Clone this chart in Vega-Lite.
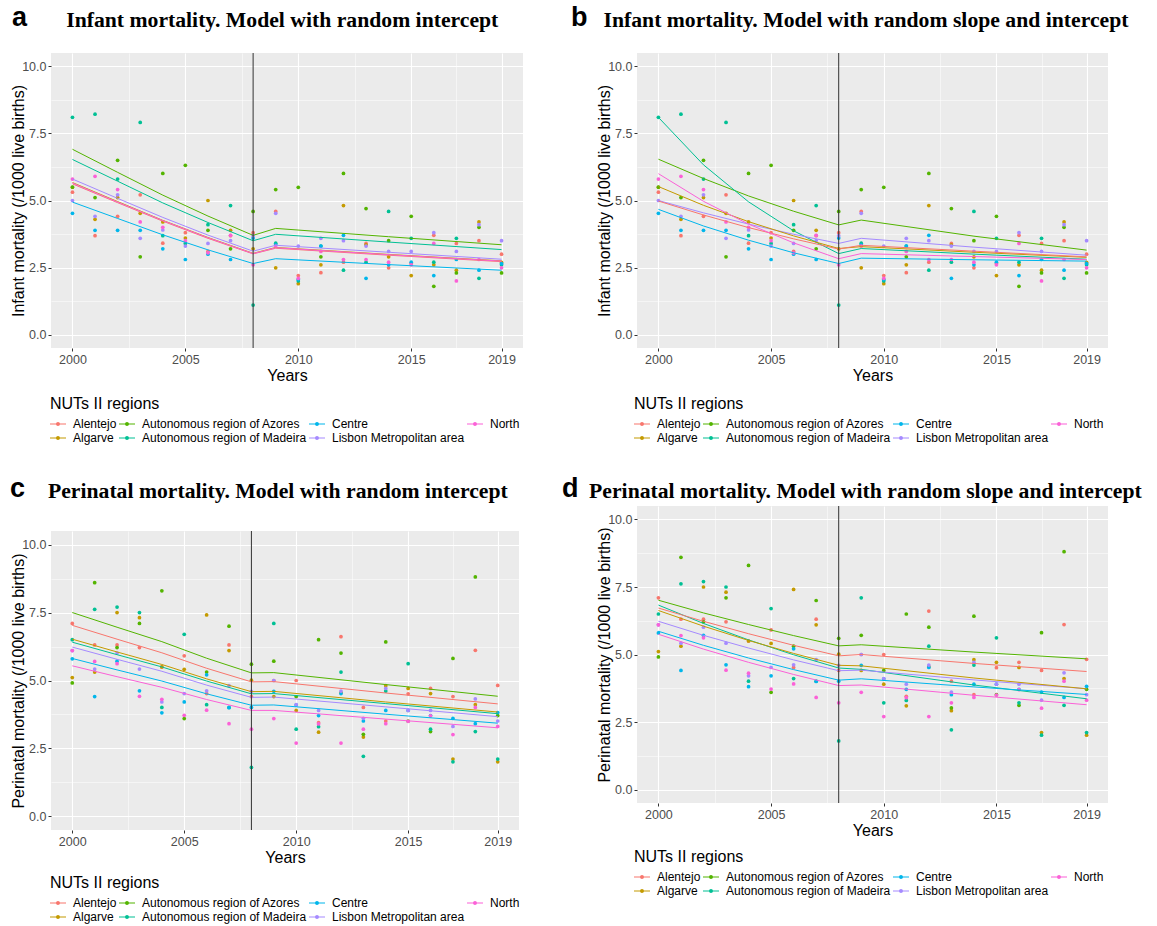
{
"$schema": "https://vega.github.io/schema/vega-lite/v6.json",
"padding": {"left": 10, "top": 3, "right": 5, "bottom": 3},
"background": "white",
"config": {
  "view": {"fill": "#EBEBEB", "stroke": null},
  "font": "Liberation Sans",
  "title": {"anchor": "start", "frame": "group", "font": "Liberation Sans", "fontSize": 27, "fontWeight": "bold", "color": "#000000", "subtitleFont": "Liberation Serif", "subtitleFontSize": 21.7, "subtitleFontWeight": "bold", "subtitleColor": "#000000", "subtitlePadding": -22},
  "axis": {"domain": false, "tickColor": "#333333", "tickSize": 3, "tickWidth": 1, "labelColor": "#4D4D4D", "labelFont": "Liberation Sans", "labelFontSize": 12.5, "labelPadding": 2, "titleFont": "Liberation Sans", "titleFontSize": 16, "titleFontWeight": "normal", "titleColor": "#000000", "titlePadding": 2, "gridColor": "#FFFFFF", "gridWidth": 1.1},
  "axisY": {"titlePadding": -5},
  "legend": {"titleFont": "Liberation Sans", "titleFontSize": 16, "titleFontWeight": "normal", "titleColor": "#000000", "labelFont": "Liberation Sans", "labelFontSize": 12, "labelColor": "#000000", "labelLimit": 400, "symbolSize": 256, "columnPadding": 2, "rowPadding": 0, "labelOffset": 7, "titlePadding": 4, "symbolStrokeWidth": 0, "symbolType": "M-1,-0.06L1,-0.06L1,0.06L-1,0.06Z M0.25,0A0.25,0.25 0 1 1 -0.25,0A0.25,0.25 0 1 1 0.25,0Z"}
},
"datasets": {
  "vl": [{"x": 2008}],
  "pts": [
{"r":"Alentejo","y":2000,"i":5.31,"p":7.1},{"r":"Alentejo","y":2001,"i":3.69,"p":6.31},{"r":"Alentejo","y":2002,"i":4.41,"p":6.31},{"r":"Alentejo","y":2003,"i":5.21,"p":6.21},{"r":"Alentejo","y":2004,"i":3.41,"p":5.5},{"r":"Alentejo","y":2005,"i":3.8,"p":5.91},{"r":"Alentejo","y":2006,"i":3.1,"p":4.52},{"r":"Alentejo","y":2007,"i":3.69,"p":6.31},{"r":"Alentejo","y":2008,"i":3.8,"p":4.41},{"r":"Alentejo","y":2009,"i":4.59,"p":5.0},{"r":"Alentejo","y":2010,"i":2.2,"p":5.0},{"r":"Alentejo","y":2011,"i":2.31,"p":3.45},{"r":"Alentejo","y":2012,"i":2.7,"p":6.61},{"r":"Alentejo","y":2013,"i":3.4,"p":4.01},{"r":"Alentejo","y":2014,"i":2.49,"p":3.51},{"r":"Alentejo","y":2015,"i":2.65,"p":4.51},{"r":"Alentejo","y":2016,"i":3.7,"p":4.71},{"r":"Alentejo","y":2017,"i":3.4,"p":4.41},{"r":"Alentejo","y":2018,"i":3.5,"p":6.11},{"r":"Alentejo","y":2019,"i":3.0,"p":4.82},
{"r":"Algarve","y":2000,"i":5.49,"p":5.11},{"r":"Algarve","y":2001,"i":4.3,"p":5.31},{"r":"Algarve","y":2002,"i":5.11,"p":7.5},{"r":"Algarve","y":2003,"i":4.52,"p":7.31},{"r":"Algarve","y":2004,"i":4.2,"p":5.5},{"r":"Algarve","y":2005,"i":3.6,"p":5.41},{"r":"Algarve","y":2006,"i":5.0,"p":7.41},{"r":"Algarve","y":2007,"i":3.89,"p":6.1},{"r":"Algarve","y":2008,"i":3.2,"p":5.01},{"r":"Algarve","y":2009,"i":2.49,"p":4.41},{"r":"Algarve","y":2010,"i":1.9,"p":3.9},{"r":"Algarve","y":2011,"i":2.6,"p":3.1},{"r":"Algarve","y":2012,"i":4.81,"p":4.55},{"r":"Algarve","y":2013,"i":3.35,"p":2.92},{"r":"Algarve","y":2014,"i":2.9,"p":4.81},{"r":"Algarve","y":2015,"i":2.2,"p":4.71},{"r":"Algarve","y":2016,"i":2.6,"p":4.52},{"r":"Algarve","y":2017,"i":2.4,"p":2.11},{"r":"Algarve","y":2018,"i":4.2,"p":4.11},{"r":"Algarve","y":2019,"i":2.69,"p":2.01},
{"r":"Autonomous region of Azores","y":2000,"i":5.5,"p":4.91},{"r":"Autonomous region of Azores","y":2001,"i":5.11,"p":8.6},{"r":"Autonomous region of Azores","y":2002,"i":6.5,"p":6.21},{"r":"Autonomous region of Azores","y":2003,"i":2.9,"p":7.1},{"r":"Autonomous region of Azores","y":2004,"i":6.01,"p":8.3},{"r":"Autonomous region of Azores","y":2005,"i":6.31,"p":3.6},{"r":"Autonomous region of Azores","y":2006,"i":3.89,"p":5.31},{"r":"Autonomous region of Azores","y":2007,"i":3.2,"p":7.0},{"r":"Autonomous region of Azores","y":2008,"i":4.59,"p":5.6},{"r":"Autonomous region of Azores","y":2009,"i":5.41,"p":5.71},{"r":"Autonomous region of Azores","y":2010,"i":5.49,"p":4.41},{"r":"Autonomous region of Azores","y":2011,"i":2.9,"p":6.5},{"r":"Autonomous region of Azores","y":2012,"i":6.01,"p":6.01},{"r":"Autonomous region of Azores","y":2013,"i":4.7,"p":3.02},{"r":"Autonomous region of Azores","y":2014,"i":3.5,"p":6.42},{"r":"Autonomous region of Azores","y":2015,"i":4.41,"p":3.51},{"r":"Autonomous region of Azores","y":2016,"i":1.8,"p":3.12},{"r":"Autonomous region of Azores","y":2017,"i":2.3,"p":5.81},{"r":"Autonomous region of Azores","y":2018,"i":4.0,"p":8.81},{"r":"Autonomous region of Azores","y":2019,"i":2.3,"p":3.71},
{"r":"Autonomous region of Madeira","y":2000,"i":8.1,"p":6.5},{"r":"Autonomous region of Madeira","y":2001,"i":8.22,"p":7.62},{"r":"Autonomous region of Madeira","y":2002,"i":5.8,"p":7.7},{"r":"Autonomous region of Madeira","y":2003,"i":7.91,"p":7.5},{"r":"Autonomous region of Madeira","y":2004,"i":3.69,"p":4.01},{"r":"Autonomous region of Madeira","y":2005,"i":3.4,"p":6.7},{"r":"Autonomous region of Madeira","y":2006,"i":4.1,"p":4.11},{"r":"Autonomous region of Madeira","y":2007,"i":4.81,"p":4.01},{"r":"Autonomous region of Madeira","y":2008,"i":1.1,"p":1.8},{"r":"Autonomous region of Madeira","y":2009,"i":3.41,"p":7.1},{"r":"Autonomous region of Madeira","y":2010,"i":2.0,"p":3.21},{"r":"Autonomous region of Madeira","y":2011,"i":3.3,"p":3.3},{"r":"Autonomous region of Madeira","y":2012,"i":2.4,"p":5.31},{"r":"Autonomous region of Madeira","y":2013,"i":2.7,"p":2.21},{"r":"Autonomous region of Madeira","y":2014,"i":4.59,"p":4.61},{"r":"Autonomous region of Madeira","y":2015,"i":3.59,"p":5.62},{"r":"Autonomous region of Madeira","y":2016,"i":2.7,"p":3.21},{"r":"Autonomous region of Madeira","y":2017,"i":3.59,"p":2.01},{"r":"Autonomous region of Madeira","y":2018,"i":2.1,"p":3.12},{"r":"Autonomous region of Madeira","y":2019,"i":2.6,"p":2.11},
{"r":"Centre","y":2000,"i":4.52,"p":5.8},{"r":"Centre","y":2001,"i":3.89,"p":4.41},{"r":"Centre","y":2002,"i":3.89,"p":5.71},{"r":"Centre","y":2003,"i":3.89,"p":4.62},{"r":"Centre","y":2004,"i":3.2,"p":3.81},{"r":"Centre","y":2005,"i":2.8,"p":4.21},{"r":"Centre","y":2006,"i":3.0,"p":5.21},{"r":"Centre","y":2007,"i":2.8,"p":4.0},{"r":"Centre","y":2008,"i":3.6,"p":4.01},{"r":"Centre","y":2009,"i":3.35,"p":4.6},{"r":"Centre","y":2010,"i":2.05,"p":4.1},{"r":"Centre","y":2011,"i":3.3,"p":3.71},{"r":"Centre","y":2012,"i":3.7,"p":4.52},{"r":"Centre","y":2013,"i":2.1,"p":3.51},{"r":"Centre","y":2014,"i":2.6,"p":3.9},{"r":"Centre","y":2015,"i":2.7,"p":3.9},{"r":"Centre","y":2016,"i":2.2,"p":3.71},{"r":"Centre","y":2017,"i":2.8,"p":3.61},{"r":"Centre","y":2018,"i":2.4,"p":3.41},{"r":"Centre","y":2019,"i":2.65,"p":3.82},
{"r":"Lisbon Metropolitan area","y":2000,"i":5.0,"p":6.1},{"r":"Lisbon Metropolitan area","y":2001,"i":4.41,"p":5.42},{"r":"Lisbon Metropolitan area","y":2002,"i":5.21,"p":6.01},{"r":"Lisbon Metropolitan area","y":2003,"i":3.59,"p":5.42},{"r":"Lisbon Metropolitan area","y":2004,"i":3.9,"p":4.21},{"r":"Lisbon Metropolitan area","y":2005,"i":3.3,"p":4.52},{"r":"Lisbon Metropolitan area","y":2006,"i":3.4,"p":4.62},{"r":"Lisbon Metropolitan area","y":2007,"i":3.5,"p":4.81},{"r":"Lisbon Metropolitan area","y":2008,"i":3.69,"p":4.6},{"r":"Lisbon Metropolitan area","y":2009,"i":4.52,"p":5.0},{"r":"Lisbon Metropolitan area","y":2010,"i":3.3,"p":4.11},{"r":"Lisbon Metropolitan area","y":2011,"i":3.59,"p":3.9},{"r":"Lisbon Metropolitan area","y":2012,"i":3.5,"p":4.61},{"r":"Lisbon Metropolitan area","y":2013,"i":3.3,"p":3.61},{"r":"Lisbon Metropolitan area","y":2014,"i":3.1,"p":4.71},{"r":"Lisbon Metropolitan area","y":2015,"i":3.1,"p":3.9},{"r":"Lisbon Metropolitan area","y":2016,"i":3.8,"p":3.9},{"r":"Lisbon Metropolitan area","y":2017,"i":3.1,"p":3.31},{"r":"Lisbon Metropolitan area","y":2018,"i":4.1,"p":4.32},{"r":"Lisbon Metropolitan area","y":2019,"i":3.5,"p":3.51},
{"r":"North","y":2000,"i":5.8,"p":6.1},{"r":"North","y":2001,"i":5.9,"p":5.7},{"r":"North","y":2002,"i":5.41,"p":5.62},{"r":"North","y":2003,"i":4.2,"p":4.42},{"r":"North","y":2004,"i":4.0,"p":4.31},{"r":"North","y":2005,"i":3.5,"p":3.72},{"r":"North","y":2006,"i":3.05,"p":3.91},{"r":"North","y":2007,"i":3.7,"p":3.41},{"r":"North","y":2008,"i":2.6,"p":3.21},{"r":"North","y":2009,"i":3.3,"p":3.6},{"r":"North","y":2010,"i":2.1,"p":2.7},{"r":"North","y":2011,"i":3.1,"p":3.4},{"r":"North","y":2012,"i":2.8,"p":2.7},{"r":"North","y":2013,"i":2.8,"p":3.21},{"r":"North","y":2014,"i":2.7,"p":3.41},{"r":"North","y":2015,"i":2.6,"p":3.5},{"r":"North","y":2016,"i":3.4,"p":3.7},{"r":"North","y":2017,"i":2.0,"p":3.01},{"r":"North","y":2018,"i":2.8,"p":4.01},{"r":"North","y":2019,"i":2.49,"p":3.31}
  ],
  "lns": [
{"r":"Autonomous region of Azores","y":2000,"a":6.91,"b":6.54,"c":7.5,"d":7.01},{"r":"Autonomous region of Azores","y":2002,"a":6.05,"b":5.82,"c":6.96,"d":6.54},{"r":"Autonomous region of Azores","y":2004,"a":5.2,"b":5.17,"c":6.43,"d":6.11},{"r":"Autonomous region of Azores","y":2006,"a":4.42,"b":4.6,"c":5.82,"d":5.7},{"r":"Autonomous region of Azores","y":2008,"a":3.7,"b":4.09,"c":5.28,"d":5.32},{"r":"Autonomous region of Azores","y":2009,"a":3.96,"b":4.27,"c":5.29,"d":5.36},{"r":"Autonomous region of Azores","y":2014,"a":3.65,"b":3.67,"c":4.85,"d":5.09},{"r":"Autonomous region of Azores","y":2019,"a":3.35,"b":3.15,"c":4.42,"d":4.84},
{"r":"Autonomous region of Madeira","y":2000,"a":6.53,"b":8.1,"c":6.41,"d":6.83},{"r":"Autonomous region of Madeira","y":2002,"a":5.72,"b":6.33,"c":5.95,"d":6.15},{"r":"Autonomous region of Madeira","y":2004,"a":4.91,"b":4.95,"c":5.5,"d":5.54},{"r":"Autonomous region of Madeira","y":2006,"a":4.18,"b":3.87,"c":4.98,"d":4.99},{"r":"Autonomous region of Madeira","y":2008,"a":3.5,"b":3.02,"c":4.51,"d":4.5},{"r":"Autonomous region of Madeira","y":2009,"a":3.74,"b":3.21,"c":4.52,"d":4.45},{"r":"Autonomous region of Madeira","y":2014,"a":3.45,"b":3.0,"c":4.15,"d":3.87},{"r":"Autonomous region of Madeira","y":2019,"a":3.17,"b":2.81,"c":3.78,"d":3.36},
{"r":"Lisbon Metropolitan area","y":2000,"a":5.8,"b":5.0,"c":6.23,"d":6.23},{"r":"Lisbon Metropolitan area","y":2002,"a":5.08,"b":4.54,"c":5.78,"d":5.71},{"r":"Lisbon Metropolitan area","y":2004,"a":4.37,"b":4.12,"c":5.34,"d":5.24},{"r":"Lisbon Metropolitan area","y":2006,"a":3.71,"b":3.74,"c":4.83,"d":4.8},{"r":"Lisbon Metropolitan area","y":2008,"a":3.11,"b":3.4,"c":4.38,"d":4.4},{"r":"Lisbon Metropolitan area","y":2009,"a":3.33,"b":3.59,"c":4.39,"d":4.42},{"r":"Lisbon Metropolitan area","y":2014,"a":3.07,"b":3.26,"c":4.03,"d":4.06},{"r":"Lisbon Metropolitan area","y":2019,"a":2.81,"b":2.96,"c":3.67,"d":3.73},
{"r":"Algarve","y":2000,"a":5.67,"b":5.52,"c":6.52,"d":6.63},{"r":"Algarve","y":2002,"a":4.96,"b":4.82,"c":6.05,"d":6.05},{"r":"Algarve","y":2004,"a":4.26,"b":4.21,"c":5.59,"d":5.52},{"r":"Algarve","y":2006,"a":3.62,"b":3.68,"c":5.06,"d":5.04},{"r":"Algarve","y":2008,"a":3.03,"b":3.21,"c":4.59,"d":4.6},{"r":"Algarve","y":2009,"a":3.25,"b":3.28,"c":4.6,"d":4.58},{"r":"Algarve","y":2014,"a":2.99,"b":3.07,"c":4.21,"d":4.13},{"r":"Algarve","y":2019,"a":2.75,"b":2.88,"c":3.84,"d":3.73},
{"r":"Alentejo","y":2000,"a":5.62,"b":4.98,"c":7.03,"d":6.72},{"r":"Alentejo","y":2002,"a":4.92,"b":4.46,"c":6.52,"d":6.23},{"r":"Alentejo","y":2004,"a":4.23,"b":3.99,"c":6.02,"d":5.77},{"r":"Alentejo","y":2006,"a":3.59,"b":3.57,"c":5.45,"d":5.34},{"r":"Alentejo","y":2008,"a":3.01,"b":3.19,"c":4.95,"d":4.95},{"r":"Alentejo","y":2009,"a":3.22,"b":3.33,"c":4.96,"d":5.0},{"r":"Alentejo","y":2014,"a":2.96,"b":3.11,"c":4.54,"d":4.67},{"r":"Alentejo","y":2019,"a":2.72,"b":2.9,"c":4.14,"d":4.37},
{"r":"North","y":2000,"a":5.65,"b":6.0,"c":5.54,"d":5.75},{"r":"North","y":2002,"a":4.94,"b":4.97,"c":5.14,"d":5.2},{"r":"North","y":2004,"a":4.25,"b":4.12,"c":4.75,"d":4.71},{"r":"North","y":2006,"a":3.61,"b":3.42,"c":4.3,"d":4.26},{"r":"North","y":2008,"a":3.02,"b":2.83,"c":3.9,"d":3.85},{"r":"North","y":2009,"a":3.24,"b":3.02,"c":3.9,"d":3.87},{"r":"North","y":2014,"a":2.98,"b":2.91,"c":3.58,"d":3.49},{"r":"North","y":2019,"a":2.74,"b":2.8,"c":3.26,"d":3.14},
{"r":"Centre","y":2000,"a":4.94,"b":4.67,"c":5.81,"d":5.86},{"r":"Centre","y":2002,"a":4.33,"b":4.05,"c":5.39,"d":5.34},{"r":"Centre","y":2004,"a":3.72,"b":3.52,"c":4.98,"d":4.87},{"r":"Centre","y":2006,"a":3.16,"b":3.05,"c":4.51,"d":4.44},{"r":"Centre","y":2008,"a":2.65,"b":2.65,"c":4.09,"d":4.05},{"r":"Centre","y":2009,"a":2.83,"b":2.85,"c":4.1,"d":4.1},{"r":"Centre","y":2014,"a":2.61,"b":2.79,"c":3.76,"d":3.8},{"r":"Centre","y":2019,"a":2.4,"b":2.74,"c":3.43,"d":3.52}
  ]
},
"spacing": 39,
"resolve": {"scale": {"color": "independent", "x": "independent", "y": "independent"}, "legend": {"color": "independent"}},
"hconcat": [
 {"spacing": 30,
  "resolve": {"scale": {"color": "independent", "x": "independent", "y": "independent"}, "legend": {"color": "independent"}},
  "vconcat": [
  {"width": 472, "height": 295,
   "title": {"text": "a", "subtitle": "\u200b\u00a0\u00a0\u00a0\u00a0\u00a0\u00a0\u00a0\u00a0\u00a0\u00a0Infant mortality. Model with random intercept", "dx": -39, "offset": 20},
   "resolve": {"axis": {"x": "independent", "y": "independent"}},
   "layer": [
    {"data": {"name": "pts"}, "mark": {"type": "point", "filled": true, "size": 14, "opacity": 1},
     "encoding": {
      "x": {"field": "y", "type": "quantitative", "scale": {"domain": [1999.05, 2019.95], "nice": false, "zero": false}, "axis": {"values": [2000, 2005, 2010, 2015, 2019], "format": "d", "title": "Years"}},
      "y": {"field": "i", "type": "quantitative", "scale": {"domain": [-0.5, 10.5], "nice": false}, "axis": {"values": [0, 2.5, 5, 7.5, 10], "format": ".1f", "title": "Infant mortality (/1000 live births)"}},
      "color": {"field": "r", "type": "nominal", "scale": {"domain": ["Alentejo", "Autonomous region of Azores", "Centre", "North", "Algarve", "Autonomous region of Madeira", "Lisbon Metropolitan area"], "range": ["#F8766D", "#53B400", "#00B6EB", "#FB61D7", "#C49A00", "#00C094", "#A58AFF"]}, "legend": {"title": "NUTs II regions", "orient": "none", "legendX": -1, "legendY": 343, "columns": 4, "direction": "horizontal"}}}},
    {"data": {"name": "lns"}, "mark": {"type": "line", "strokeWidth": 1},
     "encoding": {
      "x": {"field": "y", "type": "quantitative", "scale": {"domain": [1999.05, 2019.95], "nice": false, "zero": false}, "axis": {"values": [2002.5, 2007.5, 2012.5, 2017], "grid": true, "gridWidth": 0.5, "labels": false, "ticks": false, "title": null}},
      "y": {"field": "a", "type": "quantitative", "scale": {"domain": [-0.5, 10.5], "nice": false}, "axis": {"values": [1.25, 3.75, 6.25, 8.75], "grid": true, "gridWidth": 0.5, "labels": false, "ticks": false, "title": null}},
      "color": {"field": "r", "type": "nominal"}}},
    {"data": {"name": "vl"}, "mark": {"type": "rule", "color": "#333333", "strokeWidth": 1},
     "encoding": {"x": {"field": "x", "type": "quantitative", "axis": null}}}
   ]},
  {"width": 468, "height": 299,
   "title": {"text": "c", "subtitle": "\u200b\u00a0\u00a0\u00a0\u00a0\u00a0\u00a0\u00a0Perinatal mortality. Model with random intercept", "dx": -41, "offset": 27},
   "resolve": {"axis": {"x": "independent", "y": "independent"}},
   "layer": [
    {"data": {"name": "pts"}, "mark": {"type": "point", "filled": true, "size": 14, "opacity": 1},
     "encoding": {
      "x": {"field": "y", "type": "quantitative", "scale": {"domain": [1999.05, 2019.95], "nice": false, "zero": false}, "axis": {"values": [2000, 2005, 2010, 2015, 2019], "format": "d", "title": "Years"}},
      "y": {"field": "p", "type": "quantitative", "scale": {"domain": [-0.5, 10.5], "nice": false}, "axis": {"values": [0, 2.5, 5, 7.5, 10], "format": ".1f", "title": "Perinatal mortality (/1000 live births)"}},
      "color": {"field": "r", "type": "nominal", "scale": {"domain": ["Alentejo", "Autonomous region of Azores", "Centre", "North", "Algarve", "Autonomous region of Madeira", "Lisbon Metropolitan area"], "range": ["#F8766D", "#53B400", "#00B6EB", "#FB61D7", "#C49A00", "#00C094", "#A58AFF"]}, "legend": {"title": "NUTs II regions", "orient": "none", "legendX": -1, "legendY": 344, "columns": 4, "direction": "horizontal"}}}},
    {"data": {"name": "lns"}, "mark": {"type": "line", "strokeWidth": 1},
     "encoding": {
      "x": {"field": "y", "type": "quantitative", "scale": {"domain": [1999.05, 2019.95], "nice": false, "zero": false}, "axis": {"values": [2002.5, 2007.5, 2012.5, 2017], "grid": true, "gridWidth": 0.5, "labels": false, "ticks": false, "title": null}},
      "y": {"field": "c", "type": "quantitative", "scale": {"domain": [-0.5, 10.5], "nice": false}, "axis": {"values": [1.25, 3.75, 6.25, 8.75], "grid": true, "gridWidth": 0.5, "labels": false, "ticks": false, "title": null}},
      "color": {"field": "r", "type": "nominal"}}},
    {"data": {"name": "vl"}, "mark": {"type": "rule", "color": "#333333", "strokeWidth": 1},
     "encoding": {"x": {"field": "x", "type": "quantitative", "axis": null}}}
   ]}
 ]},
 {"spacing": 30,
  "resolve": {"scale": {"color": "independent", "x": "independent", "y": "independent"}, "legend": {"color": "independent"}},
  "vconcat": [
  {"width": 471, "height": 295,
   "title": {"text": "b", "subtitle": "\u200b\u00a0\u00a0\u00a0\u00a0\u00a0\u00a0Infant mortality. Model with random slope and intercept", "dx": -66, "offset": 20},
   "resolve": {"axis": {"x": "independent", "y": "independent"}},
   "layer": [
    {"data": {"name": "pts"}, "mark": {"type": "point", "filled": true, "size": 14, "opacity": 1},
     "encoding": {
      "x": {"field": "y", "type": "quantitative", "scale": {"domain": [1999.05, 2019.95], "nice": false, "zero": false}, "axis": {"values": [2000, 2005, 2010, 2015, 2019], "format": "d", "title": "Years"}},
      "y": {"field": "i", "type": "quantitative", "scale": {"domain": [-0.5, 10.5], "nice": false}, "axis": {"values": [0, 2.5, 5, 7.5, 10], "format": ".1f", "title": "Infant mortality (/1000 live births)"}},
      "color": {"field": "r", "type": "nominal", "scale": {"domain": ["Alentejo", "Autonomous region of Azores", "Centre", "North", "Algarve", "Autonomous region of Madeira", "Lisbon Metropolitan area"], "range": ["#F8766D", "#53B400", "#00B6EB", "#FB61D7", "#C49A00", "#00C094", "#A58AFF"]}, "legend": {"title": "NUTs II regions", "orient": "none", "legendX": -3, "legendY": 343, "columns": 4, "direction": "horizontal"}}}},
    {"data": {"name": "lns"}, "mark": {"type": "line", "strokeWidth": 1},
     "encoding": {
      "x": {"field": "y", "type": "quantitative", "scale": {"domain": [1999.05, 2019.95], "nice": false, "zero": false}, "axis": {"values": [2002.5, 2007.5, 2012.5, 2017], "grid": true, "gridWidth": 0.5, "labels": false, "ticks": false, "title": null}},
      "y": {"field": "b", "type": "quantitative", "scale": {"domain": [-0.5, 10.5], "nice": false}, "axis": {"values": [1.25, 3.75, 6.25, 8.75], "grid": true, "gridWidth": 0.5, "labels": false, "ticks": false, "title": null}},
      "color": {"field": "r", "type": "nominal"}}},
    {"data": {"name": "vl"}, "mark": {"type": "rule", "color": "#333333", "strokeWidth": 1},
     "encoding": {"x": {"field": "x", "type": "quantitative", "axis": null}}}
   ]},
  {"width": 471, "height": 297,
   "title": {"text": "d", "subtitle": "\u200b\u00a0\u00a0\u00a0\u00a0\u00a0Perinatal mortality. Model with random slope and intercept", "dx": -75, "offset": 2},
   "resolve": {"axis": {"x": "independent", "y": "independent"}},
   "layer": [
    {"data": {"name": "pts"}, "mark": {"type": "point", "filled": true, "size": 14, "opacity": 1},
     "encoding": {
      "x": {"field": "y", "type": "quantitative", "scale": {"domain": [1999.05, 2019.95], "nice": false, "zero": false}, "axis": {"values": [2000, 2005, 2010, 2015, 2019], "format": "d", "title": "Years"}},
      "y": {"field": "p", "type": "quantitative", "scale": {"domain": [-0.5, 10.5], "nice": false}, "axis": {"values": [0, 2.5, 5, 7.5, 10], "format": ".1f", "title": "Perinatal mortality (/1000 live births)"}},
      "color": {"field": "r", "type": "nominal", "scale": {"domain": ["Alentejo", "Autonomous region of Azores", "Centre", "North", "Algarve", "Autonomous region of Madeira", "Lisbon Metropolitan area"], "range": ["#F8766D", "#53B400", "#00B6EB", "#FB61D7", "#C49A00", "#00C094", "#A58AFF"]}, "legend": {"title": "NUTs II regions", "orient": "none", "legendX": -3, "legendY": 343, "columns": 4, "direction": "horizontal"}}}},
    {"data": {"name": "lns"}, "mark": {"type": "line", "strokeWidth": 1},
     "encoding": {
      "x": {"field": "y", "type": "quantitative", "scale": {"domain": [1999.05, 2019.95], "nice": false, "zero": false}, "axis": {"values": [2002.5, 2007.5, 2012.5, 2017], "grid": true, "gridWidth": 0.5, "labels": false, "ticks": false, "title": null}},
      "y": {"field": "d", "type": "quantitative", "scale": {"domain": [-0.5, 10.5], "nice": false}, "axis": {"values": [1.25, 3.75, 6.25, 8.75], "grid": true, "gridWidth": 0.5, "labels": false, "ticks": false, "title": null}},
      "color": {"field": "r", "type": "nominal"}}},
    {"data": {"name": "vl"}, "mark": {"type": "rule", "color": "#333333", "strokeWidth": 1},
     "encoding": {"x": {"field": "x", "type": "quantitative", "axis": null}}}
   ]}
 ]}
]
}
